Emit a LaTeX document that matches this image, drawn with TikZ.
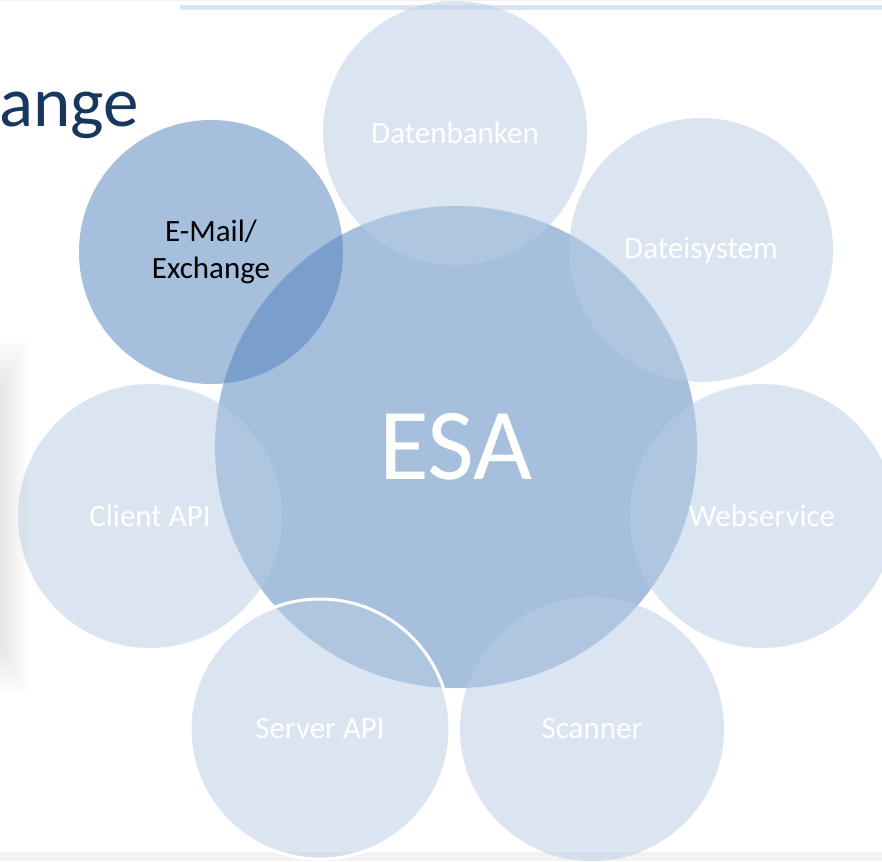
\documentclass[tikz,border=0pt]{standalone}
\usepackage{fontspec}
\setmainfont{Carlito}
\definecolor{accent}{HTML}{4F81BD}
\definecolor{satfill}{HTML}{B9CDE5}
\definecolor{titleblue}{HTML}{17375E}
\definecolor{barblue}{HTML}{DAE5F3}
\definecolor{bandgray}{HTML}{F2F2F2}
\tikzset{
  hub/.style={circle, fill=accent, fill opacity=0.5, text opacity=1, text=white, minimum size=482pt, inner sep=0pt},
  focus/.style={circle, fill=accent, fill opacity=0.5, text opacity=1, text=black, minimum size=264pt, inner sep=0pt, align=center, font=\fontsize{31}{37}\selectfont},
  sat/.style={circle, fill=satfill, fill opacity=0.5, text opacity=1, text=white, minimum size=264pt, inner sep=0pt, align=center, font=\fontsize{31}{37}\selectfont},
}
\begin{document}
\begin{tikzpicture}[x=1pt,y=-1pt]
\useasboundingbox (0,0) rectangle (882,861);
\clip (0,0) rectangle (882,861);
\fill[white] (0,0) rectangle (882,861);
% top hairline and bar
\fill[bandgray] (0,0) rectangle (882,1.5);
\fill[barblue] (180,5) rectangle (882,10);
% bottom band
\fill[bandgray] (0,852) rectangle (882,861);
% left shadow (soft)
\foreach \i in {0,...,11}{
  \fill[black, opacity=0.007] (0,{340+4*\i}) rectangle ({28-2.2*\i},{695-4*\i});
}
% title fragment
\node[anchor=base west, text=titleblue, font=\fontsize{71}{80}\selectfont, inner sep=0pt] (title) at (-1,127) {ange};
% hub
\node[hub, font=\fontsize{102}{110}\selectfont] (esa) at (456,447) {ESA};
% highlighted satellite
\node[focus] (mail) at (211,252) {E-Mail/\\Exchange};
% satellites
\node[sat] (db) at (455,133) {Datenbanken};
\node[sat] (fs) at (701,250) {Dateisystem};
\node[sat] (ws) at (762,516) {Webservice};
\node[sat] (sc) at (592,729) {Scanner};
\node[sat] (ca) at (150,516) {Client API};
\node[sat, draw=white, draw opacity=1, line width=3pt, minimum size=260pt] (sa) at (320,729) {Server API};
\end{tikzpicture}
\end{document}
